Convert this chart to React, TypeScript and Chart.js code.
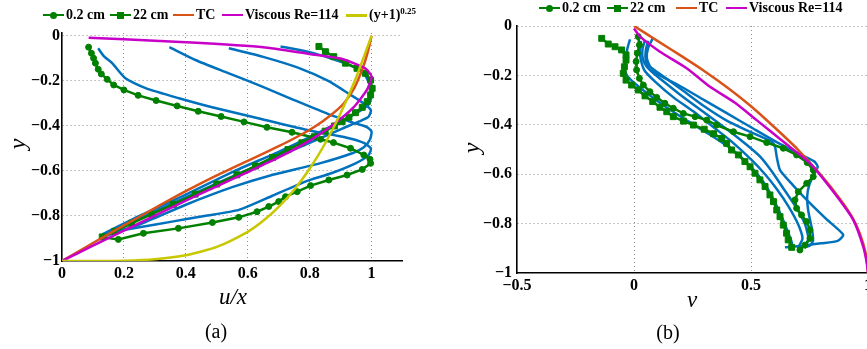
import React, { useEffect, useRef } from 'react';
import { Chart, registerables } from 'chart.js';
Chart.register(...registerables);

const SERIF = '"Liberation Serif", "DejaVu Serif", serif';
const BLUE = '#0072BD';
const ORANGE = '#D95319';
const MAGENTA = '#C800C8';
const GREEN = '#008000';
const YELLOW = '#C8C800';

// ---------- Panel (a): u/x vs y ----------
const aXTicks = [0, 0.2, 0.4, 0.6, 0.8, 1];
const aXLabels = ['0', '0.2', '0.4', '0.6', '0.8', '1'];
const aYTicks = [-1, -0.8, -0.6, -0.4, -0.2, 0];
const aYLabels = ['\u22121', '\u22120.8', '\u22120.6', '\u22120.4', '\u22120.2', '0'];

const a02X = [0.086, 0.095, 0.102, 0.108, 0.117, 0.127, 0.146, 0.167, 0.2, 0.246, 0.304, 0.372, 0.44, 0.514, 0.588, 0.662, 0.743, 0.835, 0.877, 0.932, 0.975, 0.995, 0.997, 0.97, 0.921, 0.862, 0.803, 0.76, 0.722, 0.7, 0.668, 0.63, 0.571, 0.486, 0.376, 0.263, 0.182, 0.134];
const a02Y = [-0.05, -0.077, -0.099, -0.121, -0.148, -0.169, -0.193, -0.218, -0.24, -0.264, -0.287, -0.311, -0.335, -0.358, -0.382, -0.406, -0.428, -0.459, -0.474, -0.499, -0.529, -0.548, -0.566, -0.593, -0.618, -0.64, -0.665, -0.692, -0.714, -0.736, -0.758, -0.781, -0.806, -0.829, -0.855, -0.877, -0.904, -0.895];

const a22X = [0.83, 0.851, 0.878, 0.916, 0.953, 0.98, 0.997, 1.002, 0.997, 0.986, 0.97, 0.948, 0.927, 0.905, 0.88, 0.85, 0.815, 0.775, 0.73, 0.68, 0.625, 0.565, 0.5, 0.43, 0.36, 0.29, 0.225, 0.17, 0.13];
const a22Y = [-0.047, -0.07, -0.092, -0.121, -0.144, -0.166, -0.196, -0.233, -0.262, -0.292, -0.317, -0.341, -0.361, -0.381, -0.4, -0.423, -0.448, -0.475, -0.505, -0.54, -0.578, -0.617, -0.658, -0.703, -0.748, -0.792, -0.833, -0.868, -0.893];

const aTcX = [0, 0.1, 0.2, 0.3, 0.4, 0.5, 0.6, 0.7, 0.76, 0.82, 0.87, 0.91, 0.945, 0.975, 0.99, 1.0];
const aTcY = [-1, -0.92, -0.842, -0.765, -0.69, -0.62, -0.555, -0.49, -0.448, -0.4, -0.35, -0.3, -0.23, -0.13, -0.06, 0];

const aViscX = [0.086, 0.2, 0.4, 0.65, 0.8, 0.9, 0.95, 0.98, 1.0, 0.985, 0.94, 0.88, 0.8, 0.7, 0.6, 0.5, 0.4, 0.3, 0.2, 0.1, 0];
const aViscY = [-0.008, -0.015, -0.028, -0.05, -0.08, -0.1, -0.125, -0.145, -0.18, -0.24, -0.32, -0.39, -0.465, -0.54, -0.605, -0.668, -0.732, -0.798, -0.865, -0.932, -1];

const aPowX = [0, 0.1, 0.2, 0.3, 0.4, 0.5, 0.6, 0.65, 0.7, 0.75, 0.8, 0.85, 0.9, 0.95, 1.0];
const aPowY = [-1, -0.9999, -0.9984, -0.9919, -0.9744, -0.9375, -0.8704, -0.8215, -0.7599, -0.6836, -0.5904, -0.478, -0.3439, -0.1855, 0];

const aB1X = [0.117, 0.135, 0.162, 0.205, 0.27, 0.378, 0.485, 0.647, 0.8, 0.92, 0.975, 0.998, 0.99, 0.95, 0.87, 0.786, 0.68, 0.571, 0.46, 0.355, 0.25, 0.139];
const aB1Y = [-0.055, -0.09, -0.121, -0.188, -0.232, -0.277, -0.317, -0.37, -0.42, -0.452, -0.475, -0.5, -0.53, -0.565, -0.61, -0.647, -0.71, -0.773, -0.8, -0.825, -0.85, -0.877];
const aB2X = [0.347, 0.431, 0.539, 0.647, 0.75, 0.867, 0.94, 0.985, 1.0, 0.995, 0.975, 0.94, 0.835, 0.673, 0.55, 0.4, 0.25, 0.13];
const aB2Y = [-0.05, -0.107, -0.166, -0.225, -0.285, -0.351, -0.385, -0.405, -0.425, -0.46, -0.495, -0.52, -0.565, -0.62, -0.672, -0.75, -0.838, -0.893];
const aB3X = [0.539, 0.647, 0.76, 0.86, 0.93, 0.975, 0.998, 0.99, 0.96, 0.9, 0.8, 0.65, 0.5, 0.35, 0.2, 0.125];
const aB3Y = [-0.055, -0.092, -0.14, -0.2, -0.26, -0.3, -0.33, -0.36, -0.38, -0.415, -0.475, -0.565, -0.655, -0.748, -0.84, -0.888];
const aB4X = [0.706, 0.8, 0.867, 0.93, 0.975, 0.995, 1.0, 0.99, 0.96, 0.9, 0.8, 0.7, 0.55, 0.4, 0.25, 0.13];
const aB4Y = [-0.047, -0.072, -0.099, -0.13, -0.166, -0.22, -0.27, -0.305, -0.335, -0.38, -0.45, -0.515, -0.605, -0.705, -0.8, -0.882];

// ---------- Panel (b): v vs y ----------
const bXTicks = [-0.5, 0, 0.5, 1];
const bXLabels = ['\u22120.5', '0', '0.5', '1'];
const bYTicks = [-1, -0.8, -0.6, -0.4, -0.2, 0];
const bYLabels = ['\u22121', '\u22120.8', '\u22120.6', '\u22120.4', '\u22120.2', '0'];

const b02X = [0.018, 0.023, 0.014, 0.009, 0.011, 0.023, 0.04, 0.068, 0.097, 0.132, 0.168, 0.211, 0.261, 0.311, 0.353, 0.425, 0.496, 0.567, 0.638, 0.695, 0.74, 0.766, 0.766, 0.738, 0.702, 0.688, 0.695, 0.716, 0.738, 0.752, 0.752, 0.731, 0.709];
const b02Y = [-0.043, -0.077, -0.11, -0.144, -0.178, -0.212, -0.239, -0.266, -0.289, -0.313, -0.333, -0.354, -0.367, -0.381, -0.401, -0.428, -0.448, -0.472, -0.495, -0.522, -0.553, -0.583, -0.61, -0.637, -0.671, -0.704, -0.738, -0.765, -0.792, -0.826, -0.86, -0.887, -0.907];

const b22X = [-0.138, -0.11, -0.081, -0.053, -0.034, -0.034, -0.041, -0.046, -0.034, -0.01, 0.018, 0.047, 0.08, 0.111, 0.14, 0.168, 0.211, 0.254, 0.3, 0.34, 0.375, 0.396, 0.417, 0.446, 0.474, 0.496, 0.517, 0.538, 0.56, 0.581, 0.596, 0.61, 0.624, 0.638, 0.652, 0.659, 0.674];
const b22Y = [-0.05, -0.073, -0.084, -0.097, -0.117, -0.138, -0.165, -0.192, -0.219, -0.239, -0.259, -0.283, -0.306, -0.329, -0.347, -0.367, -0.385, -0.401, -0.418, -0.436, -0.455, -0.475, -0.502, -0.522, -0.549, -0.57, -0.596, -0.623, -0.65, -0.684, -0.711, -0.745, -0.772, -0.806, -0.839, -0.866, -0.896];

const bTcX = [0, 0.1, 0.2, 0.3, 0.4, 0.5, 0.6, 0.7, 0.8, 0.88, 0.93, 0.965, 0.99, 1.0];
const bTcY = [0, -0.06, -0.12, -0.182, -0.25, -0.325, -0.41, -0.5, -0.605, -0.7, -0.77, -0.84, -0.92, -1];

const bViscX = [0, 0.026, 0.111, 0.225, 0.325, 0.43, 0.524, 0.64, 0.752, 0.852, 0.937, 0.98, 0.995, 1.0];
const bViscY = [-0.01, -0.043, -0.104, -0.171, -0.246, -0.31, -0.381, -0.47, -0.556, -0.671, -0.785, -0.894, -0.96, -1];

const bB1X = [-0.017, -0.028, -0.036, -0.04, -0.03, 0.0, 0.06, 0.14, 0.23, 0.325, 0.42, 0.5, 0.56, 0.6, 0.635, 0.66, 0.675, 0.66];
const bB1Y = [-0.054, -0.09, -0.13, -0.17, -0.2, -0.23, -0.275, -0.33, -0.385, -0.44, -0.5, -0.57, -0.64, -0.71, -0.78, -0.84, -0.88, -0.9];
const bB2X = [0.047, 0.036, 0.038, 0.055, 0.1, 0.2, 0.3, 0.4, 0.5, 0.6, 0.7, 0.77, 0.785, 0.77, 0.75, 0.74, 0.745, 0.76, 0.765, 0.75, 0.72];
const bB2Y = [-0.057, -0.095, -0.135, -0.165, -0.195, -0.245, -0.3, -0.355, -0.41, -0.465, -0.515, -0.548, -0.57, -0.6, -0.64, -0.69, -0.75, -0.82, -0.87, -0.89, -0.895];
const bB3X = [0.06, 0.05, 0.05, 0.065, 0.12, 0.2, 0.3, 0.4, 0.48, 0.54, 0.59, 0.64, 0.69, 0.73, 0.745, 0.73];
const bB3Y = [-0.06, -0.1, -0.14, -0.175, -0.22, -0.28, -0.35, -0.42, -0.48, -0.53, -0.59, -0.66, -0.73, -0.8, -0.86, -0.9];
const bB4X = [0.03, 0.025, 0.03, 0.045, 0.09, 0.17, 0.26, 0.34, 0.42, 0.5, 0.56, 0.61, 0.66, 0.7, 0.72, 0.7];
const bB4Y = [-0.06, -0.1, -0.14, -0.18, -0.225, -0.29, -0.35, -0.41, -0.47, -0.54, -0.6, -0.66, -0.73, -0.8, -0.86, -0.9];
const bB5X = [0.08, 0.06, 0.055, 0.07, 0.12, 0.2, 0.3, 0.4, 0.5, 0.59, 0.603, 0.61, 0.624, 0.68, 0.738, 0.82, 0.894, 0.87, 0.8, 0.72, 0.645];
const bB5Y = [-0.05, -0.09, -0.13, -0.165, -0.2, -0.255, -0.325, -0.385, -0.43, -0.47, -0.49, -0.53, -0.583, -0.645, -0.704, -0.78, -0.845, -0.87, -0.88, -0.89, -0.896];

const pts = (xs: number[], ys: number[]) => xs.map((x, i) => ({ x, y: ys[i] }));

function lineDs(xs: number[], ys: number[], color: string, order: number, extra: any = {}) {
  return {
    data: pts(xs, ys),
    borderColor: color,
    backgroundColor: color,
    borderWidth: 2.5,
    showLine: true,
    pointRadius: 0,
    pointHoverRadius: 0,
    tension: 0.2,
    order,
    ...extra,
  };
}

const circleMarks = { pointRadius: 3, pointBorderWidth: 1, pointStyle: 'circle', tension: 0 };
const squareMarks = { pointRadius: 4.2, pointBorderWidth: 1, pointStyle: 'rect', tension: 0 };

function scales(p: any) {
  const gridColor = (hide: number) => (ctx: any) =>
    ctx.tick && Math.abs(ctx.tick.value - hide) < 1e-9 ? 'rgba(0,0,0,0)' : '#8c8c8c';
  const tickFont = { family: SERIF, size: 16, weight: 'bold' as const };
  return {
    x: {
      type: 'linear',
      min: p.xMin,
      max: p.xMax,
      afterBuildTicks: (s: any) => { s.ticks = p.xTicks.map((v: number) => ({ value: v })); },
      afterFit: (s: any) => { s.height = p.xHeight; },
      ticks: { autoSkip: false, maxRotation: 0, padding: 3.5, color: '#000', font: tickFont, callback: (_v: any, i: number) => p.xLabels[i] },
      grid: { color: gridColor(p.xMin), lineWidth: 1, drawTicks: false },
      border: { display: true, color: '#000', width: 1.6, dash: [1, 3] },
    },
    y: {
      type: 'linear',
      min: p.yMin,
      max: p.yMax,
      afterBuildTicks: (s: any) => { s.ticks = p.yTicks.map((v: number) => ({ value: v })); },
      afterFit: (s: any) => { s.width = p.yWidth; },
      ticks: { autoSkip: false, padding: p.yPad, color: '#000', font: tickFont, callback: (_v: any, i: number) => p.yLabels[i] },
      grid: { color: gridColor(p.yMin), lineWidth: 1, drawTicks: false },
      border: { display: true, color: '#000', width: 1.6, dash: [1, 3] },
    },
  };
}

function useChart(ref: React.RefObject<HTMLCanvasElement>, build: () => any) {
  useEffect(() => {
    if (!ref.current) return;
    const chart = new Chart(ref.current, build());
    return () => chart.destroy();
  }, []);
}

const LegendItem = ({ left, top, color, marker, children }: any) => (
  <div style={{ position: 'absolute', left, top, display: 'flex', alignItems: 'center', whiteSpace: 'nowrap', font: `bold 14px ${SERIF}`, color: '#000', lineHeight: '14px' }}>
    <span style={{ position: 'relative', display: 'inline-block', width: 21, height: 10 }}>
      <span style={{ position: 'absolute', left: 0, right: 0, top: 3.75, height: 2.5, background: color }} />
      {marker === 'circle' && <span style={{ position: 'absolute', left: 7, top: 1.5, width: 7, height: 7, borderRadius: '50%', background: color }} />}
      {marker === 'square' && <span style={{ position: 'absolute', left: 6.5, top: 1.5, width: 7, height: 7, background: color }} />}
    </span>
    <span style={{ marginLeft: 2 }}>{children}</span>
  </div>
);

const Label = ({ x, y, size, italic, rotate, children }: any) => (
  <div style={{ position: 'absolute', left: x, top: y, transform: `translate(-50%, -50%)${rotate ? ' rotate(-90deg)' : ''}`, font: `${italic ? 'italic ' : ''}${size}px ${SERIF}`, lineHeight: 1, color: '#000', whiteSpace: 'nowrap' }}>
    {children}
  </div>
);

export default function App() {
  const refA = useRef<HTMLCanvasElement>(null);
  const refB = useRef<HTMLCanvasElement>(null);

  useChart(refA, () => ({
    type: 'scatter',
    data: {
      datasets: [
        lineDs(aPowX, aPowY, YELLOW, 0),
        lineDs(aViscX, aViscY, MAGENTA, 1),
        lineDs(aTcX, aTcY, ORANGE, 2),
        lineDs(a22X, a22Y, GREEN, 3, squareMarks),
        lineDs(a02X, a02Y, GREEN, 4, circleMarks),
        lineDs(aB1X, aB1Y, BLUE, 5),
        lineDs(aB2X, aB2Y, BLUE, 5),
        lineDs(aB3X, aB3Y, BLUE, 5),
        lineDs(aB4X, aB4Y, BLUE, 5),
      ],
    },
    options: {
      responsive: false,
      animation: false,
      devicePixelRatio: 1,
      layout: { padding: { left: 0, right: 37.5, top: 33, bottom: 0 } },
      plugins: { legend: { display: false }, tooltip: { enabled: false } },
      events: [],
      scales: scales({ xMin: 0, xMax: 1.1, xTicks: aXTicks, xLabels: aXLabels, yMin: -1, yMax: 0.013, yTicks: aYTicks, yLabels: aYLabels, yWidth: 62, xHeight: 29, yPad: 2 }),
    },
  }));

  useChart(refB, () => ({
    type: 'scatter',
    data: {
      datasets: [
        lineDs(bViscX, bViscY, MAGENTA, 1),
        lineDs(bTcX, bTcY, ORANGE, 2),
        lineDs(b22X, b22Y, GREEN, 3, squareMarks),
        lineDs(b02X, b02Y, GREEN, 4, circleMarks),
        lineDs(bB1X, bB1Y, BLUE, 5),
        lineDs(bB2X, bB2Y, BLUE, 5),
        lineDs(bB3X, bB3Y, BLUE, 5),
        lineDs(bB4X, bB4Y, BLUE, 5),
        lineDs(bB5X, bB5Y, BLUE, 5),
      ],
    },
    options: {
      responsive: false,
      animation: false,
      devicePixelRatio: 1,
      layout: { padding: { left: 0, right: 32, top: 26, bottom: 0 } },
      plugins: { legend: { display: false }, tooltip: { enabled: false } },
      events: [],
      scales: scales({ xMin: -0.5, xMax: 1, xTicks: bXTicks, xLabels: bXLabels, yMin: -1, yMax: 0, yTicks: bYTicks, yLabels: bYLabels, yWidth: 77, xHeight: 17, yPad: 5 }),
    },
  }));

  return (
    <div style={{ position: 'fixed', left: 0, top: 0, width: 867, height: 349, overflow: 'hidden', background: '#fff' }}>
      <canvas ref={refA} width={440} height={290} style={{ position: 'absolute', left: 0, top: 0 }} />
      <canvas ref={refB} width={460} height={290} style={{ position: 'absolute', left: 440, top: 0 }} />

      <LegendItem left={43} top={8} color={GREEN} marker="circle">0.2 cm</LegendItem>
      <LegendItem left={110} top={8} color={GREEN} marker="square">22 cm</LegendItem>
      <LegendItem left={173} top={8} color={ORANGE}>TC</LegendItem>
      <LegendItem left={222} top={8} color={MAGENTA}>Viscous Re=114</LegendItem>
      <LegendItem left={346} top={8} color={YELLOW}>
        (y+1)<span style={{ fontSize: 9, position: 'relative', top: -5 }}>0.25</span>
      </LegendItem>

      <LegendItem left={539} top={1} color={GREEN} marker="circle">0.2 cm</LegendItem>
      <LegendItem left={607} top={1} color={GREEN} marker="square">22 cm</LegendItem>
      <LegendItem left={676} top={1} color={ORANGE}>TC</LegendItem>
      <LegendItem left={726} top={1} color={MAGENTA}>Viscous Re=114</LegendItem>

      <Label x={17} y={144} size={24} italic rotate>y</Label>
      <Label x={233} y={296} size={23} italic>u/x</Label>
      <Label x={216} y={331} size={20}>(a)</Label>

      <Label x={471} y={148} size={24} italic rotate>y</Label>
      <Label x={692} y={299} size={23} italic>v</Label>
      <Label x={668} y={332} size={20}>(b)</Label>
    </div>
  );
}
